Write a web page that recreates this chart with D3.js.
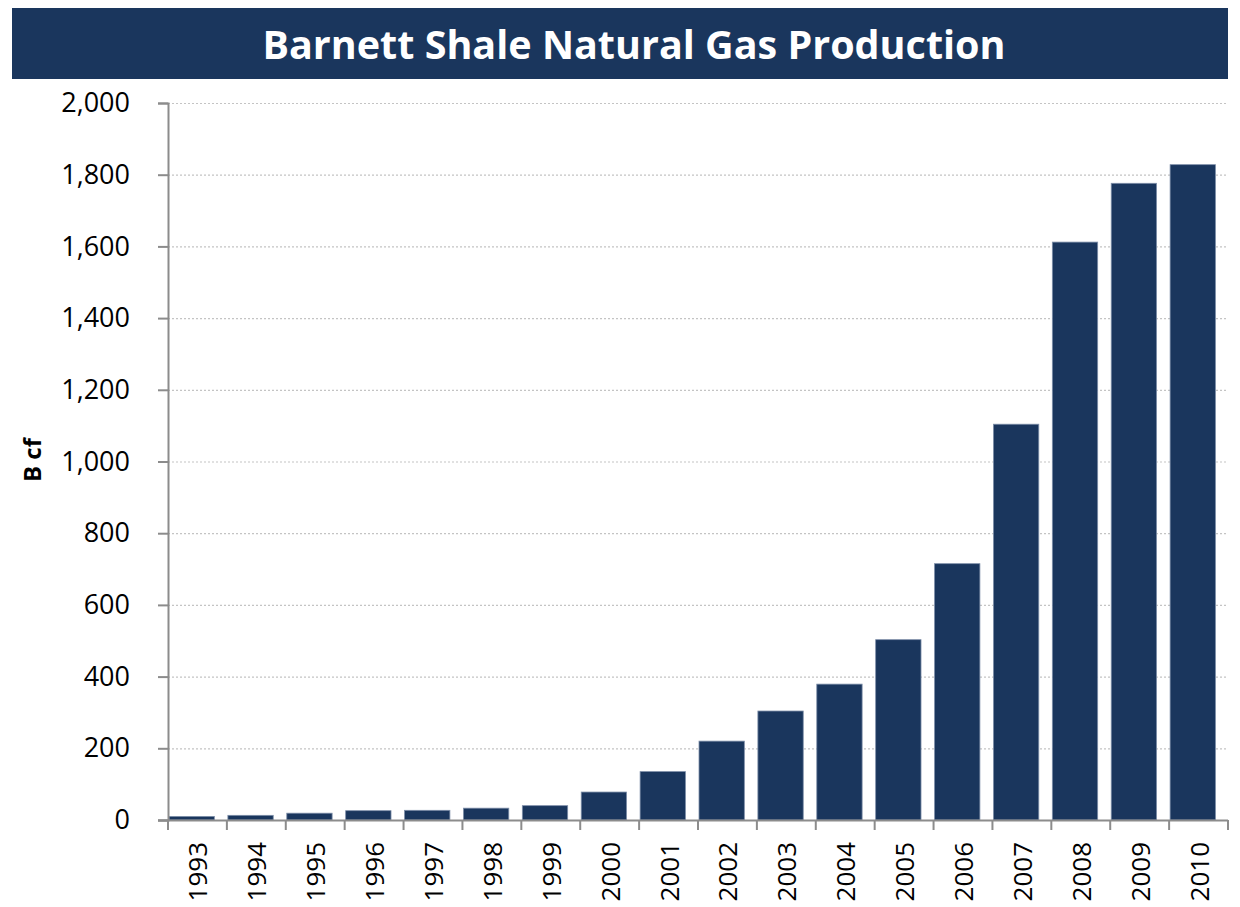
<!DOCTYPE html>
<html>
<head>
<meta charset="utf-8">
<script src="https://cdn.jsdelivr.net/npm/d3@7"></script>
<style>
  body { margin: 0; background: #fff; }
  svg { display: block; }
</style>
</head>
<body>
<script>
const years = ["1993", "1994", "1995", "1996", "1997", "1998", "1999", "2000", "2001",
  "2002", "2003", "2004", "2005", "2006", "2007", "2008", "2009", "2010"];
const production = [10, 13, 19, 26, 27, 33, 40, 78, 135, 220, 304, 379, 503, 715, 1104, 1612, 1776, 1828];
const yTicks = [0, 200, 400, 600, 800, 1000, 1200, 1400, 1600, 1800, 2000];

let width = 1240;
let height = 907;
let navy = "#1a365d";
let font = "'Open Sans', 'DejaVu Sans', sans-serif";
let plot = { left: 168, right: 1228, top: 103, bottom: 820 };

let svg = d3.select("body").append("svg")
  .attr("width", width)
  .attr("height", height);

// title banner
svg.append("rect")
  .attr("x", 12).attr("y", 8)
  .attr("width", 1216).attr("height", 71)
  .attr("fill", navy);
svg.append("text")
  .attr("x", 634).attr("y", 44)
  .attr("text-anchor", "middle")
  .attr("dominant-baseline", "central")
  .style("font-family", font)
  .style("font-weight", "700")
  .style("font-size", "39.5px")
  .style("fill", "#fff")
  .text("Barnett Shale Natural Gas Production");

let x = d3.scaleBand()
  .domain(years)
  .range([plot.left, plot.right]);

let y = d3.scaleLinear()
  .domain([0, 2000])
  .range([plot.bottom, plot.top]);

// dotted gridlines
svg.append("g")
  .selectAll("line")
  .data(yTicks.filter((d) => d > 0))
  .join("line")
  .attr("x1", plot.left)
  .attr("x2", plot.right)
  .attr("y1", (d) => y(d) + 0.5)
  .attr("y2", (d) => y(d) + 0.5)
  .attr("stroke", "#c4c4c4")
  .attr("stroke-width", 1.2)
  .attr("stroke-dasharray", "2,2");

// bars sit at the left of each band
svg.append("g")
  .selectAll("rect")
  .data(years)
  .join("rect")
  .attr("x", (d) => x(d) + 1)
  .attr("y", (d, i) => y(production[i]))
  .attr("width", x.bandwidth() * 0.77)
  .attr("height", (d, i) => y(0) - y(production[i]))
  .attr("fill", navy)
  .attr("stroke", "#7d8ea8")
  .attr("stroke-width", 0.8);

// y axis
let yAxis = svg.append("g")
  .attr("transform", `translate(${plot.left},0)`)
  .call(d3.axisLeft(y)
    .tickValues(yTicks)
    .tickSize(10)
    .tickPadding(28)
    .tickFormat(d3.format(",")));
yAxis.select(".domain").attr("stroke", "#8c8c8c").attr("stroke-width", 2);
yAxis.selectAll(".tick line").attr("stroke", "#8c8c8c").attr("stroke-width", 2);
yAxis.selectAll(".tick text")
  .style("font-family", font)
  .style("font-size", "27px")
  .style("fill", "#000");

// x axis: ticks on band boundaries
let xg = svg.append("g");
xg.append("line")
  .attr("x1", plot.left - 10).attr("x2", plot.right)
  .attr("y1", plot.bottom + 0.5).attr("y2", plot.bottom + 0.5)
  .attr("stroke", "#8c8c8c").attr("stroke-width", 2);
xg.selectAll("line.tk")
  .data(years.concat(["end"]))
  .join("line")
  .attr("class", "tk")
  .attr("x1", (d) => (d === "end" ? plot.right : x(d)))
  .attr("x2", (d) => (d === "end" ? plot.right : x(d)))
  .attr("y1", plot.bottom)
  .attr("y2", plot.bottom + 10)
  .attr("stroke", "#8c8c8c")
  .attr("stroke-width", 2);
xg.selectAll("text")
  .data(years)
  .join("text")
  .attr("transform", (d) => `translate(${x(d) + x.bandwidth() / 2},${plot.bottom + 22}) rotate(-90)`)
  .attr("text-anchor", "end")
  .attr("dominant-baseline", "central")
  .style("font-family", font)
  .style("font-size", "26px")
  .style("fill", "#000")
  .text((d) => d);

// y label
svg.append("text")
  .attr("transform", "translate(31,460) rotate(-90)")
  .attr("text-anchor", "middle")
  .attr("dominant-baseline", "central")
  .style("font-family", font)
  .style("font-weight", "700")
  .style("font-size", "24px")
  .style("fill", "#000")
  .text("B cf");
</script>
</body>
</html>
